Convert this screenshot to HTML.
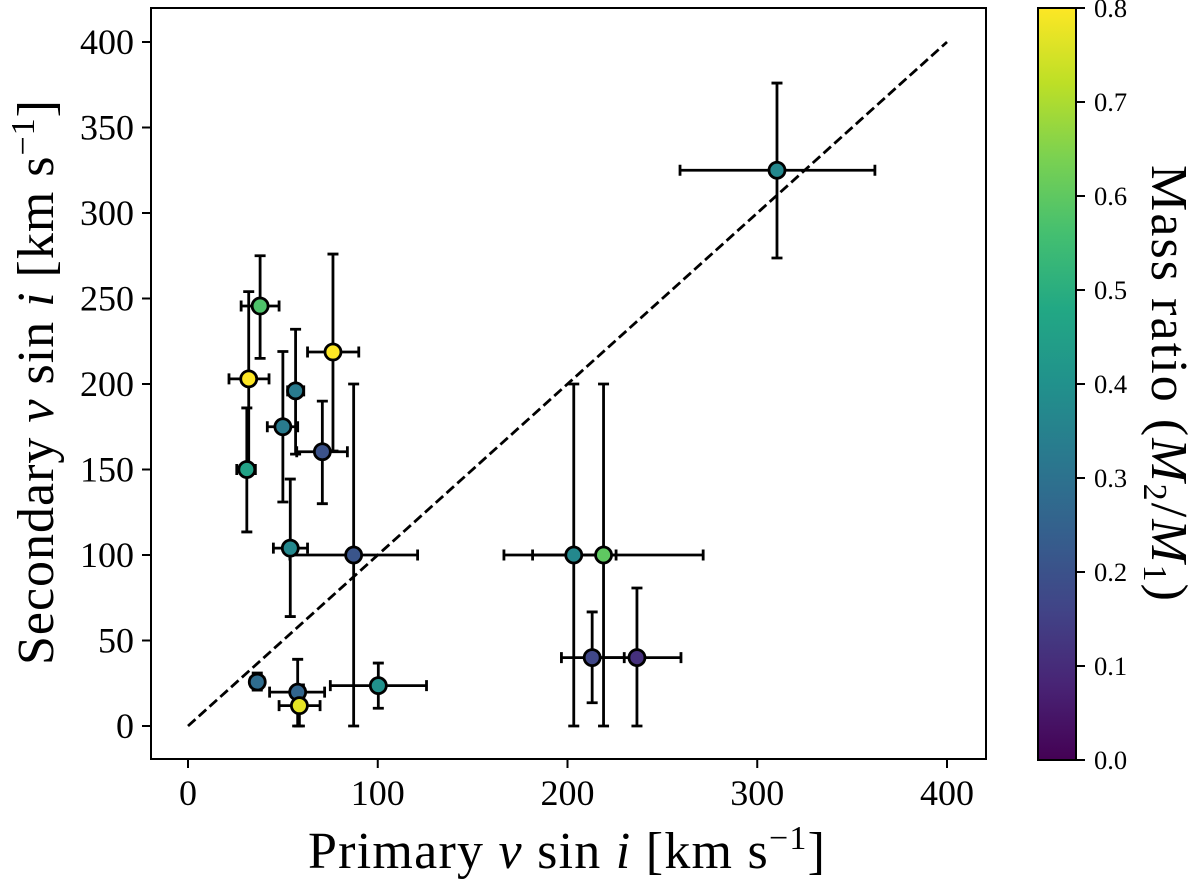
<!DOCTYPE html>
<html lang="en">
<head>
<meta charset="utf-8">
<title>Primary vs Secondary v sin i</title>
<style>
html,body{margin:0;padding:0;background:#fff;width:1200px;height:888px;overflow:hidden}
svg{display:block}
text{font-family:"Liberation Serif",serif;fill:#000}
.it{font-style:italic}
</style>
</head>
<body>
<svg id="chart" width="1200" height="888" viewBox="0 0 1200 888" xmlns="http://www.w3.org/2000/svg">
  <defs>
    <linearGradient id="viridis-gradient" x1="0" y1="1" x2="0" y2="0"></linearGradient>
  </defs>
  <g id="plot"></g>
  <rect x="151" y="8" width="835" height="751" fill="none" stroke="#000" stroke-width="2"/>
  <g id="x-ticks"></g>
  <g id="y-ticks"></g>
  <text x="308" y="868" font-size="52" textLength="517" lengthAdjust="spacing">Primary <tspan class="it">v</tspan> sin  <tspan class="it">i</tspan> [km s<tspan font-size="34" dy="-19">−1</tspan><tspan dy="19">]</tspan></text>
  <text transform="translate(53,665) rotate(-90)" font-size="52" textLength="565" lengthAdjust="spacing">Secondary <tspan class="it">v</tspan> sin  <tspan class="it">i</tspan> [km s<tspan font-size="34" dy="-19">−1</tspan><tspan dy="19">]</tspan></text>
  <rect x="1038" y="8" width="38" height="752" fill="url(#viridis-gradient)" stroke="#000" stroke-width="2"/>
  <g id="colorbar-ticks"></g>
  <text transform="translate(1152,165) rotate(90)" font-size="52" textLength="436" lengthAdjust="spacing">Mass ratio (<tspan class="it">M</tspan><tspan font-size="34" dy="8">2</tspan><tspan dy="-8">/</tspan><tspan class="it">M</tspan><tspan font-size="34" dy="8">1</tspan><tspan dy="-8">)</tspan></text>
</svg>
<script>
const primary    = [38, 32, 31, 76.4, 56.7, 50, 70.8, 53.9, 87.3, 100.3, 36.5, 57.8, 58.7, 203.3, 219, 213, 236.6, 310.4];
const primaryLo  = [28, 21.6, 25.7, 63, 52.5, 41.8, 57.3, 45, 53.7, 75, 33, 43, 48, 166.5, 181.6, 196.8, 213.4, 259.3];
const primaryHi  = [48, 42.7, 35.5, 90, 61, 57.8, 84, 63, 121, 125.7, 40, 72, 69.6, 225.6, 271.5, 229.9, 259.8, 362];
const secondary   = [245.6, 203, 150, 218.7, 196, 175, 160.4, 104, 100, 23.6, 25.7, 19.8, 11.9, 100, 100, 40, 40, 325];
const secondaryLo = [215, 152, 113.5, 160.8, 159, 131, 130, 64, 0, 10.4, 21, 0, 0, 0, 0, 13.6, 0, 273.7];
const secondaryHi = [275, 254, 186, 276, 232, 219, 190, 144.4, 200, 36.8, 31, 39, 24, 200, 200, 66.7, 80.7, 376];
const massRatio   = [0.575, 0.8, 0.46, 0.8, 0.33, 0.33, 0.2, 0.37, 0.21, 0.4, 0.28, 0.26, 0.77, 0.37, 0.6, 0.17, 0.11, 0.37];
const diagonal = [0, 400];
const xTickValues = [0, 100, 200, 300, 400];
const yTickValues = [0, 50, 100, 150, 200, 250, 300, 350, 400];
const colorbarTicks = [0, 0.1, 0.2, 0.3, 0.4, 0.5, 0.6, 0.7, 0.8];
const viridisStops = ["#440154","#482475","#414487","#355f8d","#2a788e","#21918c","#22a884","#44bf70","#7ad151","#bddf26","#fde725"];

const NS = "http://www.w3.org/2000/svg";
const xScale = v => 188 + v * 1.8975;
const yScale = v => 726 - v * 1.71;
const cScale = v => 760 - v * 940;

function mk(tag, attrs, parent) {
  const el = document.createElementNS(NS, tag);
  for (const k in attrs) el.setAttribute(k, attrs[k]);
  parent.appendChild(el);
  return el;
}
function hexToRgb(h) {
  return [1, 3, 5].map(i => parseInt(h.substr(i, 2), 16));
}
function viridis(t) {
  const p = Math.max(0, Math.min(1, t)) * (viridisStops.length - 1);
  const i = Math.min(Math.floor(p), viridisStops.length - 2);
  const a = hexToRgb(viridisStops[i]);
  const b = hexToRgb(viridisStops[i + 1]);
  const f = p - i;
  return "rgb(" + a.map((c, j) => Math.round(c + (b[j] - c) * f)).join(",") + ")";
}

const gradient = document.getElementById("viridis-gradient");
viridisStops.forEach((c, i) => {
  mk("stop", { offset: i / (viridisStops.length - 1), "stop-color": c }, gradient);
});

const plot = document.getElementById("plot");
const lineStyle = { stroke: "#000", "stroke-width": 2.8 };

const diag = mk("line", Object.assign({
  x1: xScale(diagonal[0]), y1: yScale(diagonal[0]),
  x2: xScale(diagonal[1]), y2: yScale(diagonal[1]),
  "stroke-dasharray": "10 4.5"
}, lineStyle), plot);



primary.forEach((x, i) => {
  const group = mk("g", {}, plot);
  
  
  const y = secondary[i];
  const cx = xScale(x), cy = yScale(y);
  const xl = xScale(primaryLo[i]), xh = xScale(primaryHi[i]);
  const yl = yScale(secondaryLo[i]), yh = yScale(secondaryHi[i]);
  const cap = 5.5;
  const xBar = mk("path", Object.assign({
    fill: "none",
    d: `M${xl} ${cy}H${xh}M${xl} ${cy - cap}V${cy + cap}M${xh} ${cy - cap}V${cy + cap}`
  }, lineStyle), group);
  
  
  const yBar = mk("path", Object.assign({
    fill: "none",
    d: `M${cx} ${yl}V${yh}M${cx - cap} ${yl}H${cx + cap}M${cx - cap} ${yh}H${cx + cap}`
  }, lineStyle), group);
  
  
});

primary.forEach((x, i) => {
  const dot = mk("circle", {
    cx: xScale(x), cy: yScale(secondary[i]), r: 8,
    fill: viridis(massRatio[i] / 0.8), stroke: "#000", "stroke-width": 2.8
  }, plot);
  
  
});

const xTicks = document.getElementById("x-ticks");
xTickValues.forEach(v => {
  const t = mk("line", { x1: xScale(v), x2: xScale(v), y1: 759, y2: 768, stroke: "#000", "stroke-width": 2 }, xTicks);
  
  
  const l = mk("text", { x: xScale(v), y: 805, "font-size": 36, "text-anchor": "middle" }, xTicks);
  
  
  l.textContent = v;
});

const yTicks = document.getElementById("y-ticks");
yTickValues.forEach(v => {
  const t = mk("line", { x1: 142, x2: 151, y1: yScale(v), y2: yScale(v), stroke: "#000", "stroke-width": 2 }, yTicks);
  
  
  const l = mk("text", { x: 134, y: yScale(v) + 12, "font-size": 36, "text-anchor": "end" }, yTicks);
  
  
  l.textContent = v;
});

const cTicks = document.getElementById("colorbar-ticks");
colorbarTicks.forEach(v => {
  const t = mk("line", { x1: 1076, x2: 1085, y1: cScale(v), y2: cScale(v), stroke: "#000", "stroke-width": 2 }, cTicks);
  
  
  const l = mk("text", { x: 1094, y: cScale(v) + 9, "font-size": 26.5 }, cTicks);
  
  
  l.textContent = v.toFixed(1);
});
</script>
</body>
</html>
